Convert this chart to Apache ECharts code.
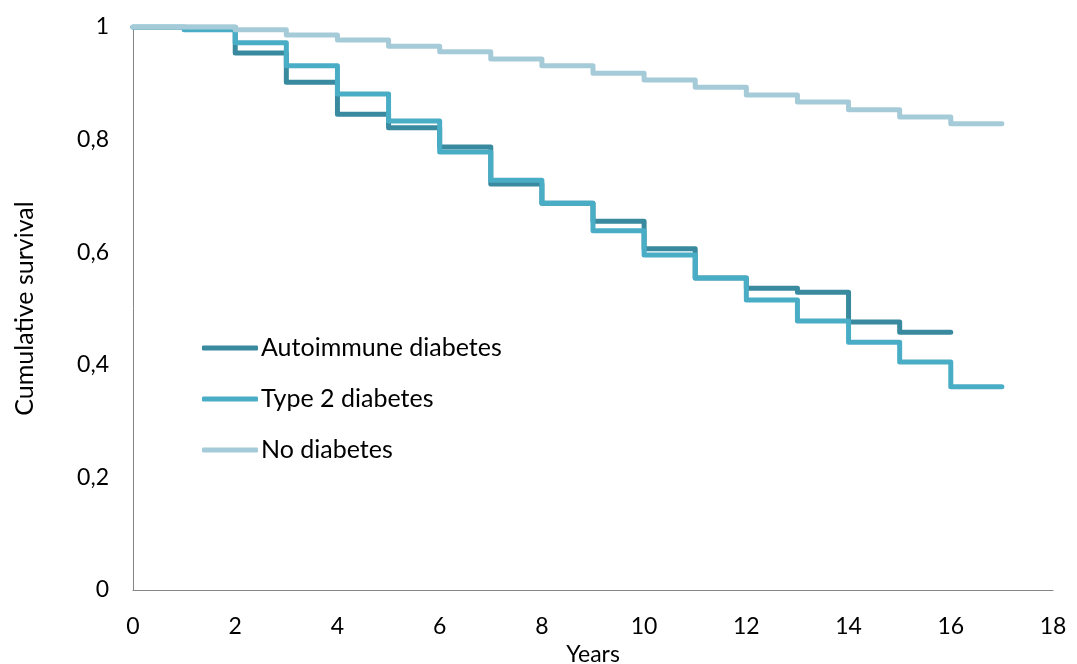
<!DOCTYPE html>
<html>
<head>
<meta charset="utf-8">
<script src="https://cdn.jsdelivr.net/npm/echarts@6/dist/echarts.min.js"></script>
<style>html,body{margin:0;padding:0;background:#fff}#c{width:1077px;height:664px}</style>
</head>
<body>
<div id="c"></div>
<script>
var seriesNames = ['Autoimmune diabetes', 'Type 2 diabetes', 'No diabetes'];
var autoimmuneYears = [0,1,2,3,4,5,6,7,8,9,10,11,12,13,14,15,16];
var autoimmune = [1, 1, 0.954, 0.902, 0.845, 0.821, 0.787, 0.721, 0.687, 0.655, 0.606, 0.554, 0.536, 0.529, 0.476, 0.458, 0.458];
var type2Years = [0,1,2,3,4,5,6,7,8,9,10,11,12,13,14,15,16,17];
var type2 = [1, 0.995, 0.972, 0.931, 0.881, 0.833, 0.778, 0.728, 0.687, 0.638, 0.595, 0.554, 0.515, 0.478, 0.440, 0.405, 0.361, 0.361];
var noDiabYears = [0,1,2,3,4,5,6,7,8,9,10,11,12,13,14,15,16,17];
var noDiab = [1, 1, 0.995, 0.986, 0.977, 0.966, 0.956, 0.943, 0.931, 0.918, 0.906, 0.893, 0.879, 0.867, 0.853, 0.840, 0.828, 0.828];
var xTicks = {min: 0, max: 18, interval: 2};
var yTicks = {min: 0, max: 1, interval: 0.2};

function pairs(xs, ys) { return xs.map(function (x, i) { return [x, ys[i]]; }); }
var colors = ['#398A9E', '#4AADC6', '#A6CBD8'];
var font = 'Lato, "Open Sans", sans-serif';

var chart = echarts.init(document.getElementById('c'));
chart.setOption({
  animation: false,
  color: colors,
  grid: {left: 133, right: 24, top: 27, bottom: 74, containLabel: false, outerBoundsMode: 'none'},
  legend: {
    orient: 'vertical',
    left: 202,
    top: 335,
    padding: 0,
    itemWidth: 56,
    itemHeight: 5,
    itemGap: 25,
    icon: 'roundRect',
    textStyle: {fontFamily: font, fontSize: 25, color: '#000', lineHeight: 26, padding: [0,0,0,-2]},
    data: seriesNames
  },
  xAxis: {
    type: 'value', min: xTicks.min, max: xTicks.max, interval: xTicks.interval,
    name: 'Years', nameLocation: 'middle', nameGap: 53,
    nameTextStyle: {fontFamily: font, fontSize: 23, color: '#000'},
    axisLine: {lineStyle: {color: '#868686', width: 1}},
    axisTick: {show: false},
    splitLine: {show: false},
    axisLabel: {fontFamily: font, fontSize: 23, color: '#000', margin: 25}
  },
  yAxis: {
    type: 'value', min: yTicks.min, max: yTicks.max, interval: yTicks.interval,
    name: 'Cumulative survival', nameLocation: 'middle', nameGap: 96,
    nameTextStyle: {fontFamily: font, fontSize: 25, color: '#000'},
    axisLine: {show: true, lineStyle: {color: '#868686', width: 1}},
    axisTick: {show: false},
    splitLine: {show: false},
    axisLabel: {fontFamily: font, fontSize: 23, color: '#000', margin: 24,
      formatter: function (v) { return String(+v.toFixed(1)).replace('.', ','); }}
  },
  series: [
    {name: seriesNames[0], type: 'line', step: 'end', data: pairs(autoimmuneYears, autoimmune), showSymbol: false,
     lineStyle: {width: 5, cap: 'round', join: 'round'}},
    {name: seriesNames[1], type: 'line', step: 'end', data: pairs(type2Years, type2), showSymbol: false,
     lineStyle: {width: 5, cap: 'round', join: 'round'}},
    {name: seriesNames[2], type: 'line', step: 'end', data: pairs(noDiabYears, noDiab), showSymbol: false,
     lineStyle: {width: 5, cap: 'round', join: 'round'}}
  ]
});
</script>
</body>
</html>
